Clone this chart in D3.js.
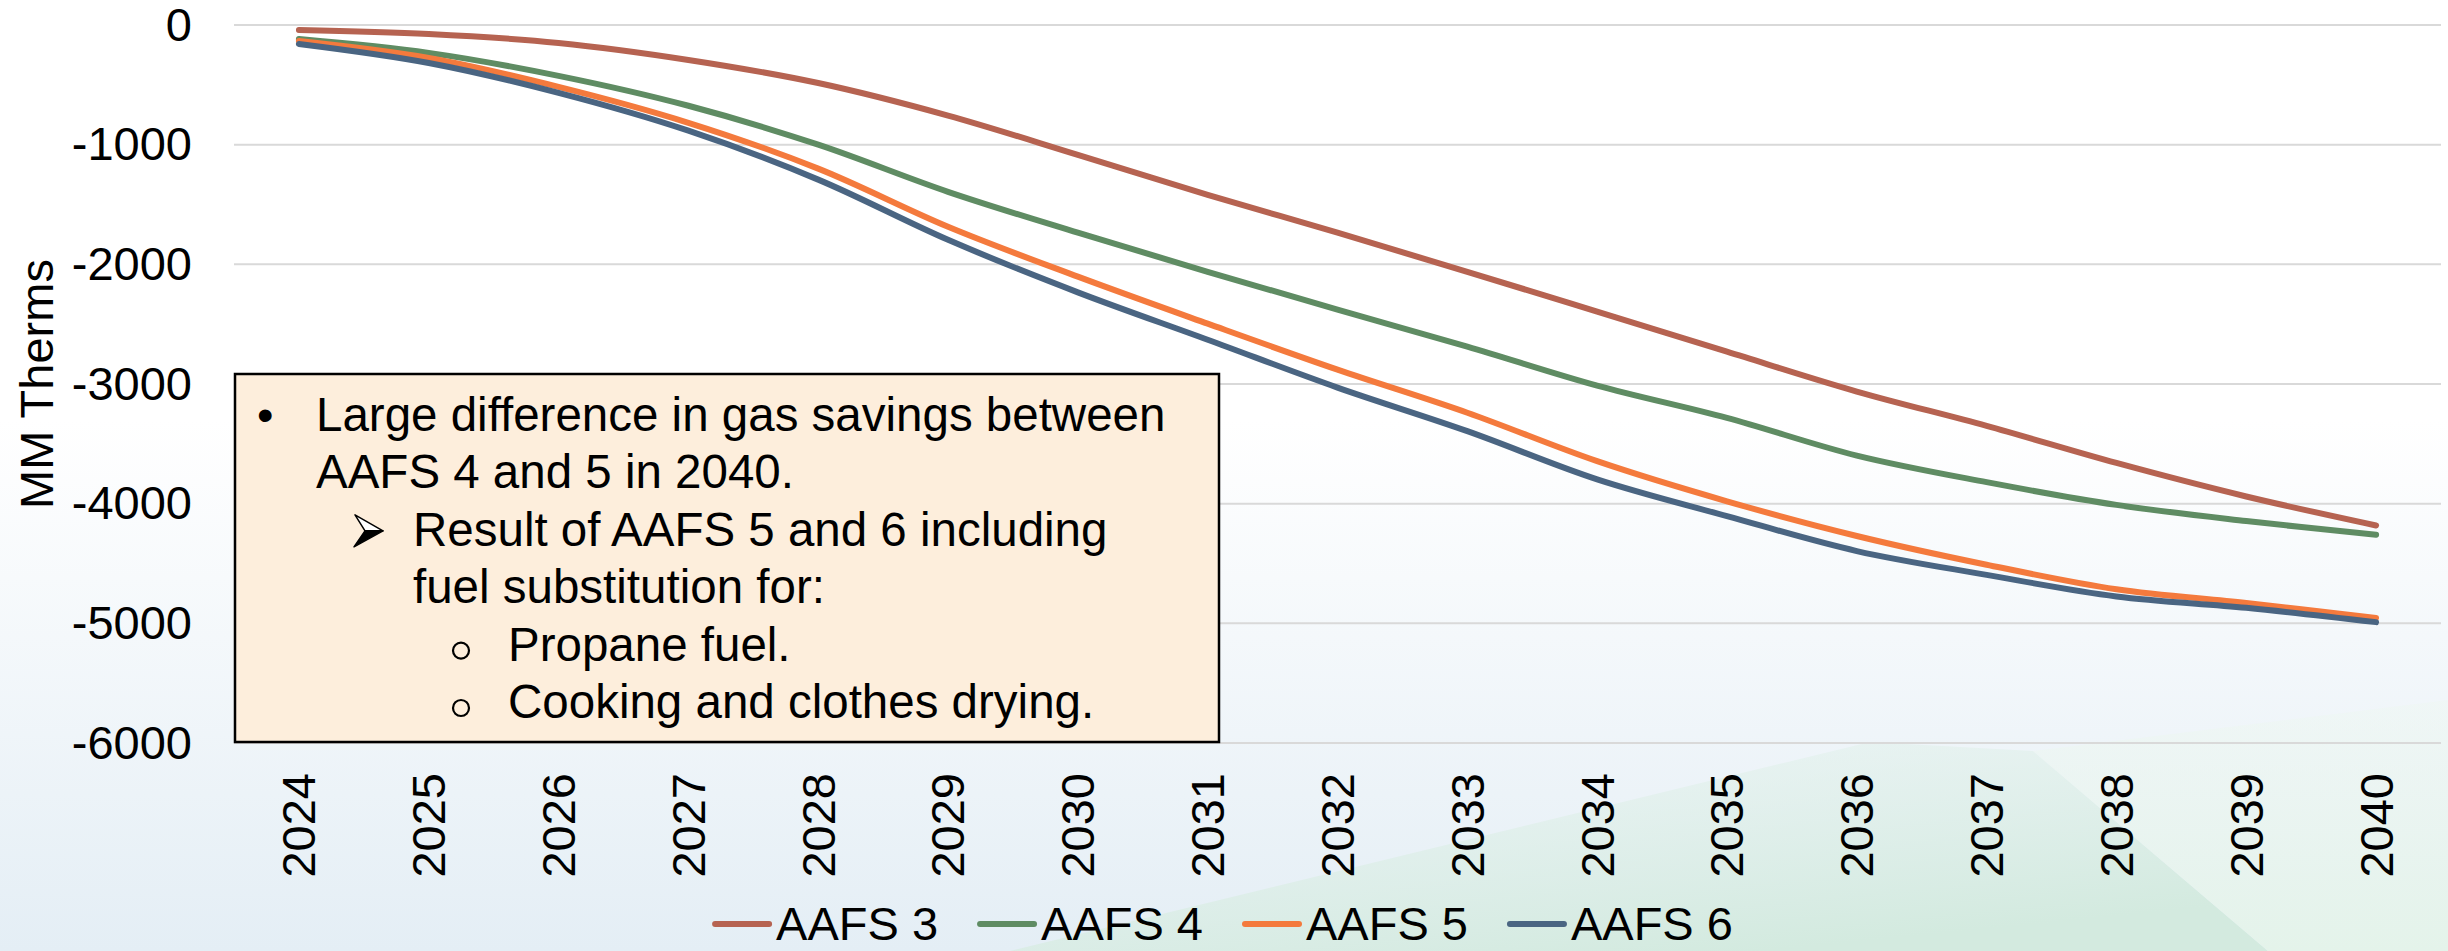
<!DOCTYPE html>
<html>
<head>
<meta charset="utf-8">
<script src="https://cdn.jsdelivr.net/npm/d3@7"></script>
<style>
  html, body { margin: 0; padding: 0; background: #fff; }
  svg { display: block; font-family: "Liberation Sans", Arial, sans-serif; }
</style>
</head>
<body>
<svg id="chart" width="2448" height="951"></svg>
<script>
// data
var years = ["2024","2025","2026","2027","2028","2029","2030","2031","2032","2033","2034","2035","2036","2037","2038","2039","2040"];
var seriesNames = ["AAFS 3", "AAFS 4", "AAFS 5", "AAFS 6"];
var aafs3 = [-42, -75, -150, -292, -485, -757, -1085, -1419, -1736, -2062, -2395, -2730, -3063, -3350, -3660, -3940, -4182];
var aafs4 = [-117, -233, -425, -675, -1000, -1394, -1736, -2062, -2379, -2687, -3013, -3283, -3598, -3820, -4010, -4145, -4260];
var aafs5 = [-133, -275, -517, -817, -1200, -1686, -2103, -2496, -2880, -3240, -3645, -3980, -4270, -4510, -4715, -4830, -4955];
var aafs6 = [-158, -317, -567, -883, -1292, -1795, -2234, -2630, -3030, -3394, -3797, -4104, -4396, -4595, -4775, -4870, -4990];
var yTicks = [0, -1000, -2000, -3000, -4000, -5000, -6000];
var colors = ["#b66351", "#5f8c63", "#f47a3d", "#4a6582"];
var yTitle = "MM Therms";
var noteLines = [
    {level: 0, text: "Large difference in gas savings between", marker: "bullet"},
    {level: 0, text: "AAFS 4 and 5 in 2040.", marker: ""},
    {level: 1, text: "Result of AAFS 5 and 6 including", marker: "arrow"},
    {level: 1, text: "fuel substitution for:", marker: ""},
    {level: 2, text: "Propane fuel.", marker: "circle"},
    {level: 2, text: "Cooking and clothes drying.", marker: "circle"}
];

var W = 2448, H = 951;
var svg = d3.select("#chart");
var defs = svg.append("defs");

// background
var gBlue = defs.append("linearGradient").attr("id", "bgBlue")
        .attr("x1", 0).attr("y1", 0).attr("x2", 0).attr("y2", 1);
gBlue.append("stop").attr("offset", "0").attr("stop-color", "#e4eef5").attr("stop-opacity", 0);
gBlue.append("stop").attr("offset", "1").attr("stop-color", "#e4eef5").attr("stop-opacity", 1);

var gGreen = defs.append("linearGradient").attr("id", "bgGreen")
        .attr("x1", 0).attr("y1", 0).attr("x2", 0.6).attr("y2", 1);
gGreen.append("stop").attr("offset", "0").attr("stop-color", "#e6f3ee").attr("stop-opacity", 0.3);
gGreen.append("stop").attr("offset", "1").attr("stop-color", "#d3eadf").attr("stop-opacity", 1);

var gGreen2 = defs.append("linearGradient").attr("id", "bgGreen2")
        .attr("x1", 0).attr("y1", 0).attr("x2", 0).attr("y2", 1);
gGreen2.append("stop").attr("offset", "0").attr("stop-color", "#eef7f2").attr("stop-opacity", 0.5);
gGreen2.append("stop").attr("offset", "1").attr("stop-color", "#e4f3ea").attr("stop-opacity", 1);

svg.append("rect").attr("width", W).attr("height", H).attr("fill", "#ffffff");
svg.append("rect").attr("x", 0).attr("y", 420).attr("width", W).attr("height", H - 420)
        .attr("fill", "url(#bgBlue)");
svg.append("polygon")
        .attr("points", "1010,951 1870,742 2033,751 2268,951")
        .attr("fill", "url(#bgGreen)");
svg.append("polygon")
        .attr("points", "2033,751 2448,700 2448,951 2268,951")
        .attr("fill", "url(#bgGreen2)");

// scales
var x = d3.scalePoint().domain(years).range([234, 2441]).padding(0.5);
var y = d3.scaleLinear().domain([-6000, 0]).range([743, 25]);

// gridlines
svg.append("g").selectAll("line")
        .data(yTicks)
        .join("line")
        .attr("x1", 234).attr("x2", 2441)
        .attr("y1", function(d){ return y(d); })
        .attr("y2", function(d){ return y(d); })
        .attr("stroke", "#d9d9d9")
        .attr("stroke-width", 2);

// y axis labels
var yAxis = svg.append("g")
        .attr("transform", "translate(192,0)")
        .call(d3.axisLeft(y).tickValues(yTicks).tickSize(0).tickPadding(0)
                .tickFormat(function(d){ return String(d); }));
yAxis.select(".domain").remove();
yAxis.selectAll("text")
        .attr("font-family", "'Liberation Sans', Arial, sans-serif")
        .attr("font-size", "47px")
        .attr("fill", "#000");

svg.append("text")
        .attr("transform", "translate(53,384) rotate(-90)")
        .attr("text-anchor", "middle")
        .attr("font-size", "47px")
        .attr("fill", "#000")
        .text(yTitle);

// x axis labels
svg.append("g").selectAll("text")
        .data(years)
        .join("text")
        .attr("transform", function(d){ return "translate(" + x(d) + ",773) rotate(-90)"; })
        .attr("dy", "0.35em")
        .attr("text-anchor", "end")
        .attr("font-size", "47px")
        .attr("fill", "#000")
        .text(function(d){ return d; });

// lines
var allSeries = [aafs3, aafs4, aafs5, aafs6];
var line = d3.line()
        .x(function(d, i){ return x(years[i]); })
        .y(function(d){ return y(d); })
        .curve(d3.curveCatmullRom.alpha(0.5));

svg.append("g").selectAll("path")
        .data(allSeries)
        .join("path")
        .attr("d", line)
        .attr("fill", "none")
        .attr("stroke", function(d, i){ return colors[i]; })
        .attr("stroke-width", 6)
        .attr("stroke-linecap", "round")
        .attr("stroke-linejoin", "round");

// note box
var box = svg.append("g").attr("transform", "translate(235,374)");
box.append("rect")
        .attr("width", 984).attr("height", 368)
        .attr("fill", "#fdeedc")
        .attr("stroke", "#000")
        .attr("stroke-width", 2.5);

var indent = [81, 178, 273];
var markerX = [22, 120, 217];
noteLines.forEach(function(ln, i){
    var by = 57 + i * 57.4;
    box.append("text")
            .attr("x", indent[ln.level]).attr("y", by)
            .attr("font-size", "47.5px")
            .attr("fill", "#000")
            .text(ln.text);
    if (ln.marker === "bullet") {
        box.append("text")
                .attr("x", markerX[0]).attr("y", by)
                .attr("font-size", "47px")
                .text("•");
    } else if (ln.marker === "arrow") {
        var ax = markerX[1], ay = by - 15;
        box.append("path")
                .attr("d", "M" + ax + "," + (ay - 16) + " L" + (ax + 28) + "," + ay + " L" + (ax + 10) + "," + ay + " Z")
                .attr("fill", "#fff").attr("stroke", "#000").attr("stroke-width", 1.5)
                .attr("stroke-linejoin", "round");
        box.append("path")
                .attr("d", "M" + (ax - 1) + "," + (ay + 16) + " L" + (ax + 28) + "," + ay + " L" + (ax + 10) + "," + ay + " Z")
                .attr("fill", "#000").attr("stroke", "#000").attr("stroke-width", 1.5)
                .attr("stroke-linejoin", "round");
    } else if (ln.marker === "circle") {
        box.append("circle")
                .attr("cx", markerX[2] + 9).attr("cy", by - 10)
                .attr("r", 8)
                .attr("fill", "none")
                .attr("stroke", "#000")
                .attr("stroke-width", 2.2);
    }
});

// legend
var legend = svg.append("g");
var items = legend.selectAll("g")
        .data(seriesNames)
        .join("g");
items.append("line")
        .attr("x1", 0).attr("x2", 54)
        .attr("y1", 924).attr("y2", 924)
        .attr("stroke", function(d, i){ return colors[i]; })
        .attr("stroke-width", 6)
        .attr("stroke-linecap", "round");
items.append("text")
        .attr("x", 61).attr("y", 940)
        .attr("font-size", "47px")
        .attr("fill", "#000")
        .text(function(d){ return d; });

var widths = [];
items.each(function(){ widths.push(this.getBBox().width); });
var gap = 42;
var total = d3.sum(widths) + gap * (widths.length - 1);
var cursor = W / 2 - total / 2;
items.attr("transform", function(d, i){
    var t = "translate(" + cursor + ",0)";
    cursor += widths[i] + gap;
    return t;
});
</script>
</body>
</html>
